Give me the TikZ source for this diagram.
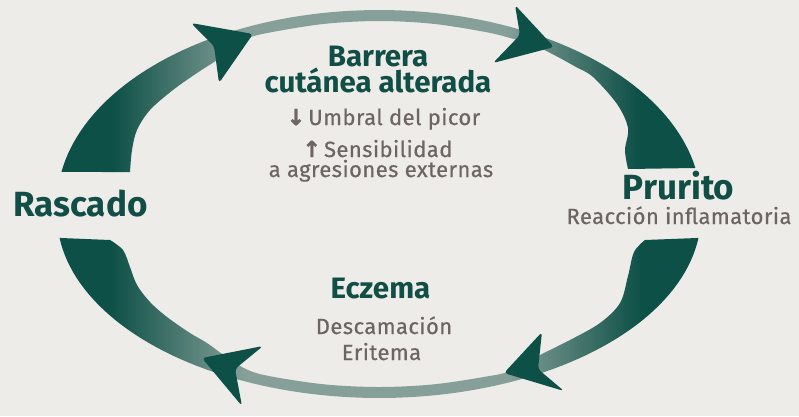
\documentclass[tikz,border=0pt]{standalone}
\usepackage{fontspec}
\setmainfont{Fira Sans}
\newfontfamily\subfont{Fira Sans}[FakeBold=0.5, LetterSpace=2]
\newfontfamily\arrowfont{DejaVu Sans}[BoldFeatures={FakeBold=1.5}]
\definecolor{bg}{HTML}{EEECE9}
\definecolor{dk}{HTML}{0D5047}
\definecolor{lt}{HTML}{86A099}
\definecolor{txtdk}{HTML}{104E46}
\definecolor{txtgr}{HTML}{6D6561}
\pgfdeclarehorizontalshading{bandshade}{100bp}{color(0bp)=(dk); color(29bp)=(dk); color(39.5bp)=(lt); color(60bp)=(lt); color(70.5bp)=(dk); color(100bp)=(dk)}
\tikzset{
  band/.style={shading=bandshade},
  arrowhd/.style={fill=dk, rounded corners=3.5pt},
  ttl/.style={text=txtdk, font=\bfseries\fontsize{29.5}{26}\selectfont, anchor=base, inner sep=0pt, align=center},
  bigttl/.style={text=txtdk, font=\bfseries\fontsize{35}{35}\selectfont, anchor=base, inner sep=0pt},
  sub/.style={text=txtgr, font=\subfont\fontsize{22}{22}\selectfont, anchor=base, inner sep=0pt}
}
\begin{document}
\begin{tikzpicture}[x=1pt,y=-1pt]
\useasboundingbox (0,0) rectangle (799,416);
\fill[bg] (0,0) rectangle (799,416);
% top band
\shade[band]
 plot[domain=170.5:10.7, samples=90, variable=\t] ({379+322*cos(\t)},{204-194*sin(\t)})
 -- plot[smooth, tension=0.55] coordinates {(628,169) (625,150) (628,128) (617,104) (593,77) (576,67) (556,56) (534.5,45.5) (510.4,38.1) (485.4,32) (433,23.8) (379,21) (325,23.8) (272.6,32) (247.5,38.2) (230,49) (217,60) (197,73) (173,90) (150,110) (137,130) (132,150) (130,172)}
 -- cycle;
% bottom band
\shade[band]
 plot[domain=187.2:352.8, samples=90, variable=\t] ({379+322*cos(\t)},{215-183*sin(\t)})
 -- plot[smooth, tension=0.55] coordinates {(645,240) (634,252) (628,276) (620,303) (600,323) (570,340) (540,355) (510.4,370.9) (485.4,376.7) (433,384.4) (379,387) (324.9,384.4) (272.6,376.7) (247.9,370) (225,356) (207,343) (190,333) (167,317) (150,302) (137,285) (130,267) (123,250) (110,240)}
 -- cycle;
% arrowheads
\fill[arrowhd] (191,23) -- (253,34) -- (219,83) -- (214,46) -- cycle;
\fill[arrowhd] (515,5) -- (554,47) -- (493,63) -- (520,35) -- cycle;
\fill[arrowhd] (542,332) -- (504,373) -- (564,391) -- (538,369) -- cycle;
\fill[arrowhd] (263,346) -- (202,358) -- (242,406) -- (235,369) -- cycle;
% texts
\node[ttl] (barrera) at (378,92) {Barrera\\cutánea alterada};
\node[sub] (umbral) at (383.5,125) {{\arrowfont\bfseries ↓}\kern3pt Umbral del picor};
\node[sub] (sensib) at (377.5,157) {{\arrowfont\bfseries ↑}\kern3pt Sensibilidad};
\node[sub] (agres) at (381,177) {a agresiones externas};
\node[bigttl] (rascado) at (80.5,216) {Rascado};
\node[bigttl] (prurito) at (678.5,199) {Prurito};
\node[sub] (reaccion) at (679,224) {Reacción inflamatoria};
\node[ttl] (eczema) at (380.5,298) {Eczema};
\node[sub] (descam) at (384,334) {Descamación};
\node[sub] (eritema) at (381.5,360) {Eritema};
\end{tikzpicture}
\end{document}
